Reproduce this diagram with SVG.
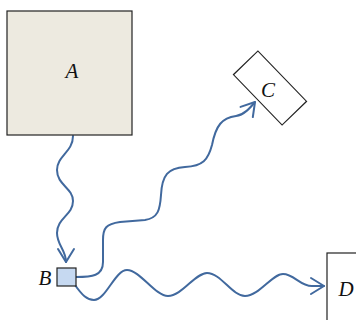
<svg xmlns="http://www.w3.org/2000/svg" width="356" height="320" viewBox="0 0 356 320">
<style>
.lbl{font-family:"Liberation Serif","DejaVu Serif",serif;font-style:italic;font-size:21px;fill:#111}
.box{stroke:#222;stroke-width:1.2}
.con{fill:none;stroke:#41699E;stroke-width:2;stroke-linecap:round}
</style>
<defs>
<marker id="arr" markerUnits="userSpaceOnUse" markerWidth="20" markerHeight="20" viewBox="-16 -10 20 20" refX="0" refY="0" orient="auto">
<path d="M-13,-8 L0,0 L-13,8" fill="none" stroke="#41699E" stroke-width="2" stroke-linecap="round" stroke-linejoin="round"/>
</marker>
</defs>
<rect width="356" height="320" fill="#fff"/>
<g id="connectors">
<path class="con" marker-end="url(#arr)" d="M73,136 C73,152 57,156 57,170 C57,185 73,188 73,201 C73,215 57,218 57,233 C57,245 66,250 66,262"/>
<path class="con" marker-end="url(#arr)" d="M76,277 C92,277 103,276 103,262 L103,240 C103,228 106,224 120,222 L145,220 C158,218 160,210 161,195 C162,175 168,168 185,167 C203,166 208,160 212,145 C216,125 222,118 236,116 C244,115 250,108 255,102"/>
<path class="con" marker-end="url(#arr)" d="M75,285 C82,295 87,300 94,300 C106,300 115,270 127,270 C140,270 155,296 168,296 C182,296 195,273 207,273 C221,273 232,296 245,296 C259,296 272,274 283,274 C294,274 300,286 312,286 L324,286"/>
</g>
<g id="A">
<rect class="box" x="7" y="11" width="125" height="124" fill="#EDEAE0"/>
<text class="lbl" x="72" y="78" text-anchor="middle">A</text>
</g>
<g id="B">
<rect class="box" x="57" y="268" width="19" height="18" fill="#C6D9F1"/>
<text class="lbl" x="45" y="285" text-anchor="middle">B</text>
</g>
<g id="C">
<rect class="box" x="235" y="71" width="70" height="34" fill="#fff" transform="rotate(46 270 88)"/>
<text class="lbl" x="268" y="97" text-anchor="middle">C</text>
</g>
<g id="D">
<rect class="box" x="327" y="253" width="40" height="80" fill="#fff"/>
<text class="lbl" x="346" y="296" text-anchor="middle">D</text>
</g>
</svg>
